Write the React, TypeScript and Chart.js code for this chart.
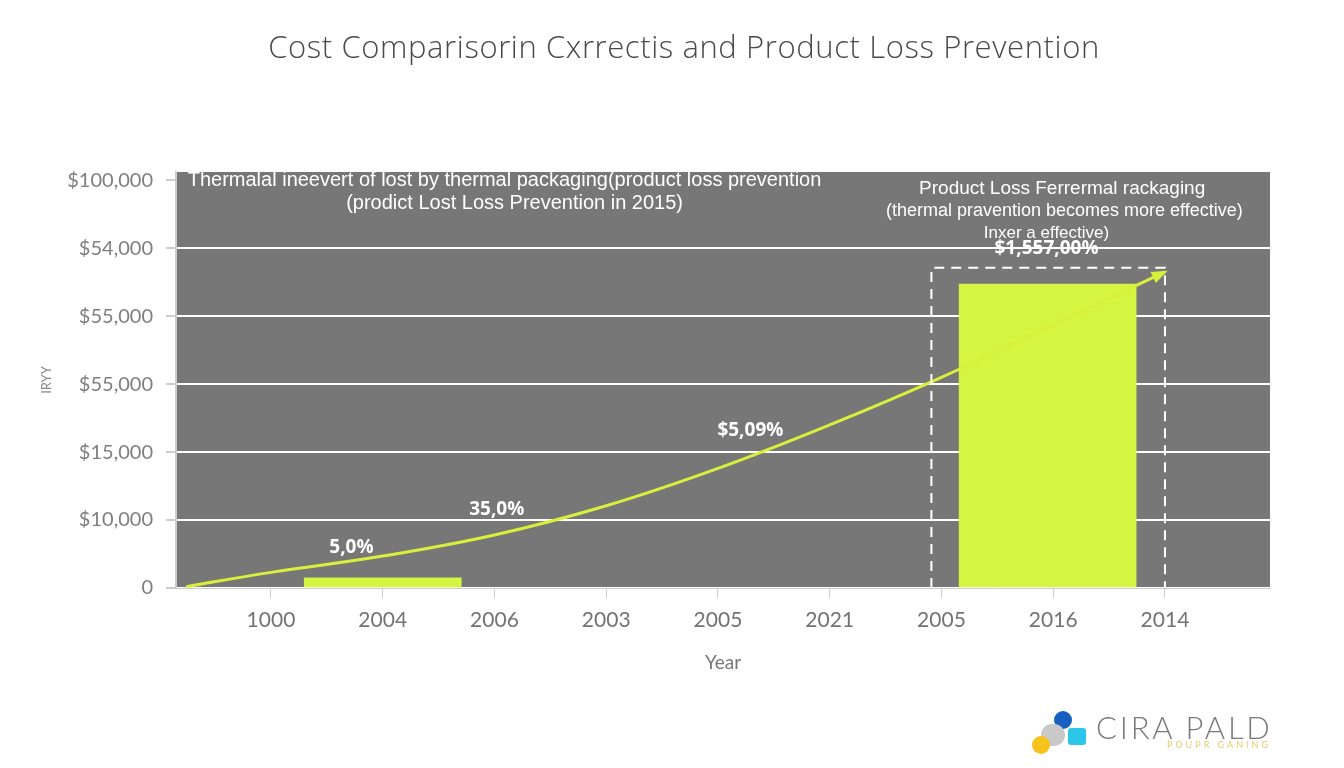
import React, { useEffect, useRef } from 'react';
import { Chart, registerables } from 'chart.js';

Chart.register(...registerables);

const titleText = 'Cost Comparisorin Cxrrectis and Product Loss Prevention';
const xAxisTitle = 'Year';
const yAxisTitle = 'IRYY';
const xLabels = ['1000', '2004', '2006', '2003', '2005', '2021', '2005', '2016', '2014'];
const yLabels = ['0', '$10,000', '$15,000', '$55,000', '$55,000', '$54,000', '$100,000'];

// trend line (x = category index, y = tick index units)
const lineX = [-0.76, 0, 1, 2, 3, 4, 5, 6, 7, 8];
const lineY = [0.02, 0.23, 0.47, 0.78, 1.21, 1.76, 2.4, 3.1, 3.87, 4.65];

// bars
const smallBarX = 1;
const smallBarY = 0.15;
const bigBarX = 6.95;
const bigBarY = 4.47;

// value labels
const valueLabels = ['5,0%', '35,0%', '$5,09%', '$1,557,00%'];
const valueLabelX = [0.72, 2.02, 4.29, 6.94];
const valueLabelY = [0.59, 1.16, 2.31, 5.0];

// annotation texts
const annoTexts = [
  'Thermalal ineevert of lost by thermal packaging(product loss prevention',
  '(prodict Lost Loss Prevention in 2015)',
  'Product Loss Ferrermal rackaging',
  '(thermal pravention becomes more effective)',
  'Inxer a effective)',
];
const annoX = [2.09, 2.18, 7.08, 7.1, 6.94];
const annoY = [6.0, 5.65, 5.88, 5.54, 5.22];
const annoSize = [20, 20, 19, 18, 17];

// highlight box
const boxX = [5.91, 8.0];
const boxTop = 4.71;

const GRAY = '#777777';
const LIME = '#d6f542';
const LINE = '#d8f03c';

const overlayPlugin = {
  id: 'overlay',
  beforeDraw(chart: any) {
    const { ctx, chartArea } = chart;
    ctx.save();
    ctx.fillStyle = GRAY;
    ctx.fillRect(chartArea.left, chartArea.top, chartArea.right - chartArea.left, chartArea.bottom - chartArea.top);
    ctx.restore();
  },
  afterDatasetsDraw(chart: any) {
    const { ctx } = chart;
    const xs = chart.scales.x;
    const ys = chart.scales.y;
    ctx.save();
    // dashed box
    const l = xs.getPixelForValue(boxX[0]);
    const r = xs.getPixelForValue(boxX[1]);
    const t = ys.getPixelForValue(boxTop);
    const b = ys.getPixelForValue(0);
    ctx.strokeStyle = '#ffffff';
    ctx.lineWidth = 2;
    ctx.setLineDash([10, 7]);
    ctx.beginPath();
    ctx.moveTo(l, b);
    ctx.lineTo(l, t);
    ctx.lineTo(r, t);
    ctx.lineTo(r, b);
    ctx.stroke();
    ctx.setLineDash([]);

    // arrow head
    const meta = chart.getDatasetMeta(0);
    const pts = meta.data;
    const last = pts[pts.length - 1];
    const prev = pts[pts.length - 2];
    let px = last.cp1x ?? prev.x;
    let py = last.cp1y ?? prev.y;
    if (Math.abs(px - last.x) < 1 && Math.abs(py - last.y) < 1) { px = prev.x; py = prev.y; }
    const ang = Math.atan2(last.y - py, last.x - px);
    const len = 13, half = 6;
    ctx.fillStyle = LINE;
    ctx.beginPath();
    ctx.moveTo(last.x + Math.cos(ang) * 3, last.y + Math.sin(ang) * 3);
    ctx.lineTo(last.x - Math.cos(ang) * len + Math.cos(ang + Math.PI / 2) * half, last.y - Math.sin(ang) * len + Math.sin(ang + Math.PI / 2) * half);
    ctx.lineTo(last.x - Math.cos(ang) * len - Math.cos(ang + Math.PI / 2) * half, last.y - Math.sin(ang) * len - Math.sin(ang + Math.PI / 2) * half);
    ctx.closePath();
    ctx.fill();

    // annotations
    ctx.textAlign = 'center';
    ctx.textBaseline = 'middle';
    ctx.fillStyle = '#ffffff';
    annoTexts.forEach((txt, i) => {
      ctx.font = `${annoSize[i]}px "Liberation Sans", Arial, sans-serif`;
      ctx.fillText(txt, xs.getPixelForValue(annoX[i]), ys.getPixelForValue(annoY[i]));
    });
    // value labels
    ctx.font = 'bold 19px "Open Sans", sans-serif';
    valueLabels.forEach((txt, i) => {
      ctx.fillText(txt, xs.getPixelForValue(valueLabelX[i]), ys.getPixelForValue(valueLabelY[i]));
    });
    ctx.restore();
  },
};

export default function App() {
  const ref = useRef<HTMLCanvasElement>(null);
  useEffect(() => {
    const chart = new Chart(ref.current as HTMLCanvasElement, {
      type: 'bar',
      data: {
        datasets: [
          {
            type: 'line',
            label: 'trend',
            data: lineX.map((x, i) => ({ x, y: lineY[i] })),
            borderColor: LINE,
            borderWidth: 3,
            pointRadius: 0,
            tension: 0.4,
            order: 0,
          } as any,
          {
            type: 'bar',
            label: 'small',
            data: [{ x: smallBarX, y: smallBarY }],
            backgroundColor: LIME,
            barThickness: 157,
            grouped: false,
            order: 1,
          } as any,
          {
            type: 'bar',
            label: 'big',
            data: [{ x: bigBarX, y: bigBarY }],
            backgroundColor: LIME,
            barThickness: 177,
            grouped: false,
            order: 1,
          } as any,
        ],
      },
      options: {
        responsive: false,
        animation: false,
        layout: { padding: { top: 172, left: 0, right: 74, bottom: 80 } },
        plugins: { legend: { display: false }, tooltip: { enabled: false }, title: { display: false } },
        scales: {
          x: {
            type: 'linear',
            offset: false,
            min: -0.85,
            max: 8.94,
            afterBuildTicks: (s: any) => {
              s.ticks = xLabels.map((_, i) => ({ value: i }));
            },
            afterFit: (s: any) => { s.height = 100; },
            ticks: {
              callback: (v: any) => xLabels[v] ?? '',
              color: '#737373',
              font: { family: 'Lato', size: 21 },
              padding: 10,
              maxRotation: 0,
              autoSkip: false,
            },
            grid: { drawOnChartArea: false, drawTicks: true, tickLength: 10, tickColor: '#cccccc', offset: false },
            border: { color: '#cccccc', width: 1 },
            title: { display: true, text: xAxisTitle, color: '#777777', font: { family: 'Lato', size: 19 }, padding: { bottom: 14 } },
          },
          y: {
            type: 'linear',
            min: 0,
            max: 6.12,
            afterBuildTicks: (s: any) => {
              s.ticks = yLabels.map((_, i) => ({ value: i }));
            },
            afterFit: (s: any) => { s.width = 176; },
            ticks: {
              callback: (v: any) => yLabels[v] ?? '',
              color: '#7f7f7f',
              font: { family: 'Lato', size: 20 },
              padding: 13,
            },
            grid: {
              color: (c: any) => (c.tick && c.tick.value === 6 ? 'rgba(0,0,0,0)' : '#ffffff'),
              lineWidth: 2,
              tickLength: 10,
              tickColor: '#cccccc',
            },
            border: { color: '#cccccc', width: 2 },
            title: { display: true, text: yAxisTitle, color: '#888888', font: { family: 'Lato', size: 13 }, padding: { top: 39 } },
          },
        },
      },
      plugins: [overlayPlugin],
    } as any);
    return () => chart.destroy();
  }, []);

  return (
    <div style={{ position: 'fixed', left: 0, top: 0, width: 1344, height: 768, background: '#ffffff', overflow: 'hidden' }}>
      <canvas ref={ref} width={1344} height={768} style={{ position: 'absolute', left: 0, top: 0 }} />
      <div style={{ position: 'absolute', left: 12, top: 27, width: 1344, textAlign: 'center', fontFamily: '"Open Sans", sans-serif', fontWeight: 300, fontSize: 31, lineHeight: '38px', color: '#4a4a4a', letterSpacing: 0.6 }}>
        {titleText}
      </div>
      <div style={{ position: 'absolute', left: 1054, top: 711, width: 18, height: 18, borderRadius: 9, background: '#1660c2' }} />
      <div style={{ position: 'absolute', left: 1041, top: 724, width: 24, height: 22, borderRadius: 11, background: '#c9c9c9' }} />
      <div style={{ position: 'absolute', left: 1068, top: 728, width: 18, height: 17, borderRadius: 3, background: '#2cc6e8' }} />
      <div style={{ position: 'absolute', left: 1032, top: 736, width: 18, height: 18, borderRadius: 9, background: '#f6c21c' }} />
      <div style={{ position: 'absolute', left: 1096, top: 711, fontFamily: 'Lato, sans-serif', fontWeight: 300, fontSize: 31, lineHeight: '32px', color: '#7a7a7a', letterSpacing: 2.8 }}>
        CIRA PALD
      </div>
      <div style={{ position: 'absolute', left: 1167, top: 740, fontFamily: 'Lato, sans-serif', fontSize: 9, lineHeight: '10px', color: '#e2cf6c', letterSpacing: 3 }}>
        POUPR GANING
      </div>
    </div>
  );
}
